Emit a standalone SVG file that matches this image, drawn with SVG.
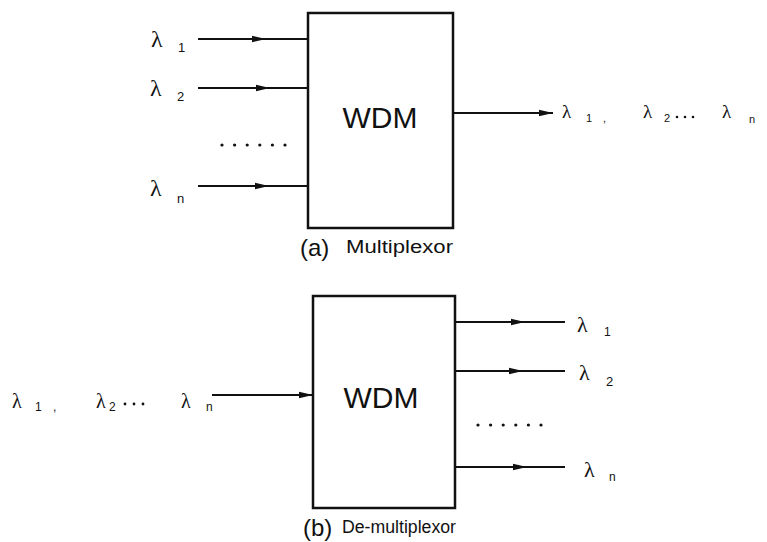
<svg xmlns="http://www.w3.org/2000/svg" width="767" height="542" viewBox="0 0 767 542">
<defs>
<style>
.box{fill:#fff;stroke:#111;stroke-width:2.5}
.ln{fill:none;stroke:#111;stroke-width:2}
.ttl{font-family:"Liberation Sans",Arial,sans-serif;font-size:30px;fill:#111;text-anchor:middle}
.lam{font-family:"Liberation Serif","Times New Roman",serif;fill:#111}
.sub{font-family:"Liberation Sans",Arial,sans-serif;fill:#111}
.cap{font-family:"Liberation Sans",Arial,sans-serif;fill:#111}
.dot{fill:#111}
</style>
<marker id="ah" viewBox="0 0 14 8" refX="14" refY="4" markerWidth="14" markerHeight="8" markerUnits="userSpaceOnUse" orient="auto">
<path d="M0,0.8 L14,4 L0,7.2 Z" fill="#111"/>
</marker>
<g id="dots6">
<circle class="dot" cx="0" cy="0" r="1.6"/><circle class="dot" cx="12.6" cy="0" r="1.6"/><circle class="dot" cx="25.2" cy="0" r="1.6"/><circle class="dot" cx="37.8" cy="0" r="1.6"/><circle class="dot" cx="50.4" cy="0" r="1.6"/><circle class="dot" cx="63" cy="0" r="1.6"/>
</g>
</defs>
<rect width="767" height="542" fill="#fff"/>

<g id="connectors">
<polyline class="ln" points="198,39 266,39 308,39" marker-mid="url(#ah)"/>
<polyline class="ln" points="198,88 270,88 308,88" marker-mid="url(#ah)"/>
<polyline class="ln" points="198,186 269,186 308,186" marker-mid="url(#ah)"/>
<line class="ln" x1="453" y1="113" x2="553" y2="113" marker-end="url(#ah)"/>
<line class="ln" x1="212" y1="395" x2="313" y2="395" marker-end="url(#ah)"/>
<polyline class="ln" points="455,322 525,322 565,322" marker-mid="url(#ah)"/>
<polyline class="ln" points="455,371 523,371 565,371" marker-mid="url(#ah)"/>
<polyline class="ln" points="455,467 527,467 565,467" marker-mid="url(#ah)"/>
</g>

<g id="mux">
<rect class="box" x="308" y="13" width="145" height="215"/>
<text class="ttl" x="380" y="128">WDM</text>
</g>
<g id="mux-inputs">
<text class="lam" x="151" y="47" font-size="24">λ</text><text class="sub" x="178" y="52" font-size="13">1</text>
<text class="lam" x="150" y="96" font-size="24">λ</text><text class="sub" x="177" y="101" font-size="13">2</text>
<text class="lam" x="150" y="196" font-size="24">λ</text><text class="sub" x="177" y="203" font-size="13">n</text>
<use href="#dots6" x="222" y="145"/>
</g>
<g id="mux-output">
<text class="lam" x="562" y="118" font-size="19">λ</text><text class="sub" x="586" y="122" font-size="11">1</text><text class="sub" x="603" y="122" font-size="11">,</text>
<text class="lam" x="643" y="118" font-size="19">λ</text><text class="sub" x="664" y="122" font-size="11">2</text>
<circle class="dot" cx="677" cy="117" r="1.3"/><circle class="dot" cx="685" cy="117" r="1.3"/><circle class="dot" cx="693" cy="117" r="1.3"/>
<text class="lam" x="722" y="118" font-size="19">λ</text><text class="sub" x="749" y="123" font-size="11">n</text>
</g>
<g id="caption-a">
<text class="cap" x="300" y="256" font-size="24">(a)</text>
<text class="cap" x="346" y="253" font-size="18" textLength="107" lengthAdjust="spacingAndGlyphs">Multiplexor</text>
</g>

<g id="demux">
<rect class="box" x="313" y="296" width="142" height="212"/>
<text class="ttl" x="381" y="408">WDM</text>
</g>
<g id="demux-input">
<text class="lam" x="12" y="408" font-size="20">λ</text><text class="sub" x="35" y="411" font-size="12">1</text><text class="sub" x="53" y="411" font-size="12">,</text>
<text class="lam" x="96" y="408" font-size="20">λ</text><text class="sub" x="109" y="411" font-size="12">2</text>
<circle class="dot" cx="125" cy="404" r="1.4"/><circle class="dot" cx="134" cy="404" r="1.4"/><circle class="dot" cx="143" cy="404" r="1.4"/>
<text class="lam" x="181" y="408" font-size="20">λ</text><text class="sub" x="206" y="411" font-size="12">n</text>
</g>
<g id="demux-outputs">
<text class="lam" x="577" y="332" font-size="22">λ</text><text class="sub" x="604" y="336" font-size="12">1</text>
<text class="lam" x="579" y="380" font-size="22">λ</text><text class="sub" x="606" y="386" font-size="13">2</text>
<text class="lam" x="584" y="477" font-size="22">λ</text><text class="sub" x="609" y="481" font-size="12">n</text>
<use href="#dots6" x="478" y="425"/>
</g>
<g id="caption-b">
<text class="cap" x="303" y="536" font-size="24">(b)</text>
<text class="cap" x="342" y="533" font-size="18" textLength="114" lengthAdjust="spacingAndGlyphs">De-multiplexor</text>
</g>
</svg>
